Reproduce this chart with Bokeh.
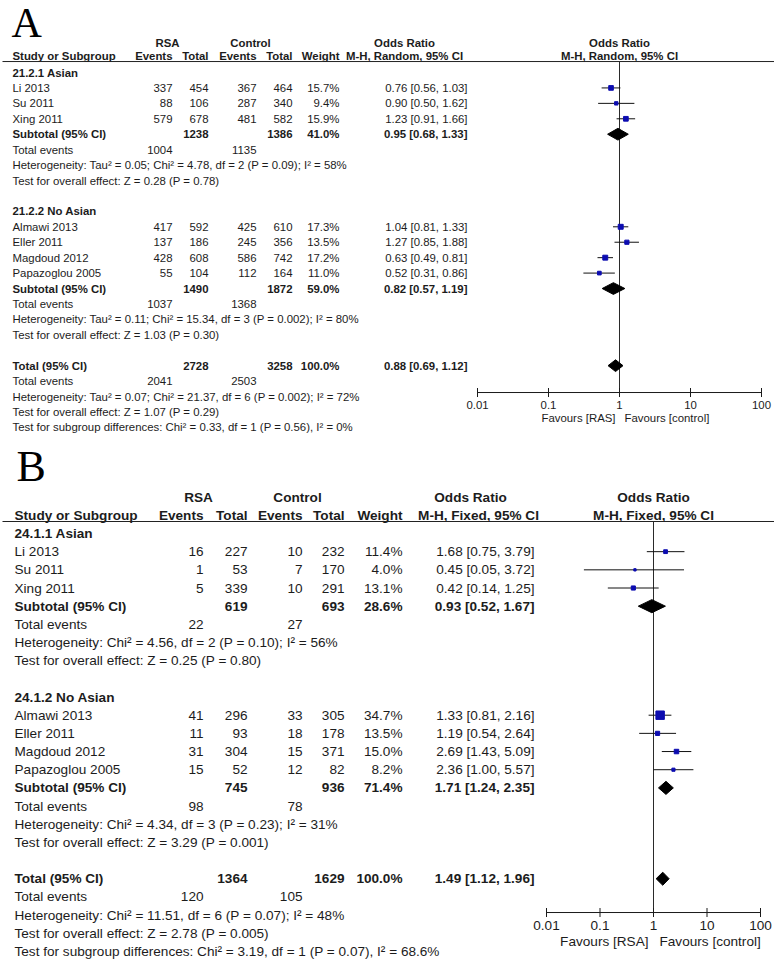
import math
from bokeh.plotting import figure
from bokeh.models import Range1d, LogScale, ColumnDataSource
from bokeh.layouts import column
from bokeh.embed import file_html
from bokeh.resources import INLINE
from bokeh.core.properties import value

# ---------------- data: panel A ----------------
a_letter = "A"
a_method = "M-H, Random, 95% CI"
a_groups = ["21.2.1 Asian", "21.2.2 No Asian"]
a_studies = ["Li 2013", "Su 2011", "Xing 2011", "Almawi 2013", "Eller 2011", "Magdoud 2012", "Papazoglou 2005"]
a_study_group = [0, 0, 0, 1, 1, 1, 1]
a_rsa_events = [337, 88, 579, 417, 137, 428, 55]
a_rsa_total = [454, 106, 678, 592, 186, 608, 104]
a_ctl_events = [367, 287, 481, 425, 245, 586, 112]
a_ctl_total = [464, 340, 582, 610, 356, 742, 164]
a_weight = [15.7, 9.4, 15.9, 17.3, 13.5, 17.2, 11.0]
a_or = [0.76, 0.90, 1.23, 1.04, 1.27, 0.63, 0.52]
a_lo = [0.56, 0.50, 0.91, 0.81, 0.85, 0.49, 0.31]
a_hi = [1.03, 1.62, 1.66, 1.33, 1.88, 0.81, 0.86]
a_sub_rsa_total = [1238, 1490]
a_sub_ctl_total = [1386, 1872]
a_sub_weight = [41.0, 59.0]
a_sub_or = [0.95, 0.82]
a_sub_lo = [0.68, 0.57]
a_sub_hi = [1.33, 1.19]
a_sub_rsa_events = [1004, 1037]
a_sub_ctl_events = [1135, 1368]
a_sub_het = ["Heterogeneity: Tau\u00b2 = 0.05; Chi\u00b2 = 4.78, df = 2 (P = 0.09); I\u00b2 = 58%",
             "Heterogeneity: Tau\u00b2 = 0.11; Chi\u00b2 = 15.34, df = 3 (P = 0.002); I\u00b2 = 80%"]
a_sub_test = ["Test for overall effect: Z = 0.28 (P = 0.78)",
              "Test for overall effect: Z = 1.03 (P = 0.30)"]
a_tot = dict(rsa_total=2728, ctl_total=3258, weight=100.0, orr=0.88, lo=0.69, hi=1.12,
             rsa_events=2041, ctl_events=2503)
a_tot_het = "Heterogeneity: Tau\u00b2 = 0.07; Chi\u00b2 = 21.37, df = 6 (P = 0.002); I\u00b2 = 72%"
a_tot_test = "Test for overall effect: Z = 1.07 (P = 0.29)"
a_sub_diff = "Test for subgroup differences: Chi\u00b2 = 0.33, df = 1 (P = 0.56), I\u00b2 = 0%"
a_favours = ["Favours [RAS]", "Favours [control]"]

# ---------------- data: panel B ----------------
b_letter = "B"
b_method = "M-H, Fixed, 95% CI"
b_groups = ["24.1.1 Asian", "24.1.2 No Asian"]
b_studies = ["Li 2013", "Su 2011", "Xing 2011", "Almawi 2013", "Eller 2011", "Magdoud 2012", "Papazoglou 2005"]
b_study_group = [0, 0, 0, 1, 1, 1, 1]
b_rsa_events = [16, 1, 5, 41, 11, 31, 15]
b_rsa_total = [227, 53, 339, 296, 93, 304, 52]
b_ctl_events = [10, 7, 10, 33, 18, 15, 12]
b_ctl_total = [232, 170, 291, 305, 178, 371, 82]
b_weight = [11.4, 4.0, 13.1, 34.7, 13.5, 15.0, 8.2]
b_or = [1.68, 0.45, 0.42, 1.33, 1.19, 2.69, 2.36]
b_lo = [0.75, 0.05, 0.14, 0.81, 0.54, 1.43, 1.00]
b_hi = [3.79, 3.72, 1.25, 2.16, 2.64, 5.09, 5.57]
b_sub_rsa_total = [619, 745]
b_sub_ctl_total = [693, 936]
b_sub_weight = [28.6, 71.4]
b_sub_or = [0.93, 1.71]
b_sub_lo = [0.52, 1.24]
b_sub_hi = [1.67, 2.35]
b_sub_rsa_events = [22, 98]
b_sub_ctl_events = [27, 78]
b_sub_het = ["Heterogeneity: Chi\u00b2 = 4.56, df = 2 (P = 0.10); I\u00b2 = 56%",
             "Heterogeneity: Chi\u00b2 = 4.34, df = 3 (P = 0.23); I\u00b2 = 31%"]
b_sub_test = ["Test for overall effect: Z = 0.25 (P = 0.80)",
              "Test for overall effect: Z = 3.29 (P = 0.001)"]
b_tot = dict(rsa_total=1364, ctl_total=1629, weight=100.0, orr=1.49, lo=1.12, hi=1.96,
             rsa_events=120, ctl_events=105)
b_tot_het = "Heterogeneity: Chi\u00b2 = 11.51, df = 6 (P = 0.07); I\u00b2 = 48%"
b_tot_test = "Test for overall effect: Z = 2.78 (P = 0.005)"
b_sub_diff = "Test for subgroup differences: Chi\u00b2 = 3.19, df = 1 (P = 0.07), I\u00b2 = 68.6%"
b_favours = ["Favours [RSA]", "Favours [control]"]

# shared axis ticks
or_ticks = [0.01, 0.1, 1, 10, 100]
or_tick_labels = ["0.01", "0.1", "1", "10", "100"]

# ---------------- styling ----------------
FONT = "Liberation Sans"
INK = "#1c1c1c"
BLUE = "#0c0cb0"
PAGE_W = 774


def fmt_ci(o, l, h):
    return f"{o:.2f} [{l:.2f}, {h:.2f}]"


def add_text(p, xs, ys, ts, fs, align="left", bold=False, rng="default", xo=0, yo=0,
             font=FONT, color=INK):
    src = ColumnDataSource(dict(x=list(xs), y=list(ys), t=list(ts)))
    p.text(x="x", y="y", text="t", source=src, text_font=value(font),
           text_font_size=value(fs), text_font_style="bold" if bold else "normal",
           text_align=align, text_baseline="middle", text_color=color,
           x_range_name=rng, x_offset=xo, y_offset=yo)


def build_panel(D, L):
    H = L["height"]
    r0, step = L["row0_px"], L["row_step"]
    y_top = -r0 / step
    y_bot = (H - r0) / step
    one_px, dec = L["one_px"], L["decade_px"]
    or_start = 10 ** ((0 - one_px) / dec)
    or_end = 10 ** ((PAGE_W - one_px) / dec)

    p = figure(width=PAGE_W, height=H, x_range=Range1d(0, PAGE_W),
               y_range=Range1d(y_bot, y_top), x_axis_type=None, y_axis_type=None,
               toolbar_location=None, output_backend="svg", min_border=0,
               outline_line_color=None, background_fill_color="white",
               border_fill_color="white")
    p.extra_x_ranges = {"or": Range1d(or_start, or_end)}
    p.extra_x_scales = {"or": LogScale()}

    fs = L["fs"]
    # ---- row bookkeeping
    rows_hdr, rows_study, rows_sub, rows_ev, rows_het, rows_test = [], [], [], [], [], []
    r = 0
    for g in range(len(D["groups"])):
        rows_hdr.append(r)
        r += 1
        for sg in D["study_group"]:
            if sg == g:
                rows_study.append(r)
                r += 1
        rows_sub.append(r)
        rows_ev.append(r + 1)
        rows_het.append(r + 2)
        rows_test.append(r + 3)
        r += 5
    row_tot = r

    C = L["cols"]
    # ---- big panel letter
    add_text(p, [L["letter_x"]], [L["letter_row"]], [D["letter"]], L["letter_fs"],
             font="Liberation Serif", color="black")

    # ---- headers
    add_text(p, [C["rsa_hdr"], C["ctl_hdr"], C["or_hdr"]], [L["hdr1_row"]] * 3,
             ["RSA", "Control", "Odds Ratio"], fs, align="center", bold=True)
    add_text(p, [1], [L["hdr1_row"]], ["Odds Ratio"], fs, align="center", bold=True, rng="or")
    add_text(p, [C["study"]], [L["hdr2_row"]], ["Study or Subgroup"], fs, bold=True)
    add_text(p, [C["rsa_ev"], C["rsa_tot"], C["ctl_ev"], C["ctl_tot"], C["weight"]],
             [L["hdr2_row"]] * 5, ["Events", "Total", "Events", "Total", "Weight"], fs,
             align="right", bold=True)
    add_text(p, [C["mh_hdr"]], [L["hdr2_row"]], [D["method"]], fs, align="center", bold=True)
    add_text(p, [1], [L["hdr2_row"]], [D["method"]], fs, align="center", bold=True, rng="or")
    p.segment(x0=[2], x1=[PAGE_W], y0=[L["rule_row"]], y1=[L["rule_row"]],
              line_color="#222222", line_width=1)

    # ---- group headers, studies
    add_text(p, [C["study"]] * len(rows_hdr), rows_hdr, D["groups"], fs, bold=True)
    add_text(p, [C["study"]] * len(rows_study), rows_study, D["studies"], fs)
    add_text(p, [C["rsa_ev"]] * len(rows_study), rows_study, [str(v) for v in D["rsa_events"]], fs, align="right")
    add_text(p, [C["rsa_tot"]] * len(rows_study), rows_study, [str(v) for v in D["rsa_total"]], fs, align="right")
    add_text(p, [C["ctl_ev"]] * len(rows_study), rows_study, [str(v) for v in D["ctl_events"]], fs, align="right")
    add_text(p, [C["ctl_tot"]] * len(rows_study), rows_study, [str(v) for v in D["ctl_total"]], fs, align="right")
    add_text(p, [C["weight"]] * len(rows_study), rows_study, [f"{w:.1f}%" for w in D["weight"]], fs, align="right")
    add_text(p, [C["or_txt"]] * len(rows_study), rows_study,
             [fmt_ci(o, l, h) for o, l, h in zip(D["or"], D["lo"], D["hi"])], fs, align="right")

    # ---- subtotals
    n = len(rows_sub)
    add_text(p, [C["study"]] * n, rows_sub, ["Subtotal (95% CI)"] * n, fs, bold=True)
    add_text(p, [C["rsa_tot"]] * n, rows_sub, [str(v) for v in D["sub_rsa_total"]], fs, align="right", bold=True)
    add_text(p, [C["ctl_tot"]] * n, rows_sub, [str(v) for v in D["sub_ctl_total"]], fs, align="right", bold=True)
    add_text(p, [C["weight"]] * n, rows_sub, [f"{w:.1f}%" for w in D["sub_weight"]], fs, align="right", bold=True)
    add_text(p, [C["or_txt"]] * n, rows_sub,
             [fmt_ci(o, l, h) for o, l, h in zip(D["sub_or"], D["sub_lo"], D["sub_hi"])], fs,
             align="right", bold=True)
    add_text(p, [C["study"]] * n, rows_ev, ["Total events"] * n, fs)
    add_text(p, [C["rsa_ev"]] * n, rows_ev, [str(v) for v in D["sub_rsa_events"]], fs, align="right")
    add_text(p, [C["ctl_ev"]] * n, rows_ev, [str(v) for v in D["sub_ctl_events"]], fs, align="right")
    add_text(p, [C["study"]] * n, rows_het, D["sub_het"], fs)
    add_text(p, [C["study"]] * n, rows_test, D["sub_test"], fs)

    # ---- overall total
    T = D["tot"]
    add_text(p, [C["study"]], [row_tot], ["Total (95% CI)"], fs, bold=True)
    add_text(p, [C["rsa_tot"], C["ctl_tot"], C["weight"], C["or_txt"]], [row_tot] * 4,
             [str(T["rsa_total"]), str(T["ctl_total"]), f"{T['weight']:.1f}%",
              fmt_ci(T["orr"], T["lo"], T["hi"])], fs, align="right", bold=True)
    add_text(p, [C["study"]], [row_tot + 1], ["Total events"], fs)
    add_text(p, [C["rsa_ev"], C["ctl_ev"]], [row_tot + 1] * 2,
             [str(T["rsa_events"]), str(T["ctl_events"])], fs, align="right")
    add_text(p, [C["study"]] * 3, [row_tot + 2, row_tot + 3, row_tot + 4],
             [D["tot_het"], D["tot_test"], D["sub_diff"]], fs)

    # ---- forest plot
    ax = L["axis_row"]
    p.segment(x0=[1], x1=[1], y0=[L["rule_row"]], y1=[ax], x_range_name="or",
              line_color="#2a2a2a", line_width=1)
    p.segment(x0=D["lo"], x1=D["hi"], y0=rows_study, y1=rows_study, x_range_name="or",
              line_color="#111111", line_width=1)
    p.scatter(x=D["or"], y=rows_study, size=[1.5 + 0.2 * w for w in D["weight"]],
              marker="square", fill_color=BLUE, line_color=BLUE, x_range_name="or")
    dh = L["diamond_h"]
    d_or = list(D["sub_or"]) + [T["orr"]]
    d_lo = list(D["sub_lo"]) + [T["lo"]]
    d_hi = list(D["sub_hi"]) + [T["hi"]]
    d_rows = rows_sub + [row_tot]
    p.patches(xs=[[l, o, h, o] for o, l, h in zip(d_or, d_lo, d_hi)],
              ys=[[rr, rr - dh, rr, rr + dh] for rr in d_rows],
              fill_color="black", line_color="black", x_range_name="or")
    # axis
    p.segment(x0=[or_ticks[0]], x1=[or_ticks[-1]], y0=[ax], y1=[ax], x_range_name="or",
              line_color="#1a1a1a", line_width=1)
    p.scatter(x=or_ticks, y=[ax] * len(or_ticks), marker="dash", angle=math.pi / 2,
              size=L["tick_size"], line_color="#1a1a1a", line_width=1, x_range_name="or")
    add_text(p, or_ticks, [ax] * len(or_ticks), or_tick_labels, fs, align="center",
             rng="or", yo=L["tick_lab_off"])
    add_text(p, [1], [ax], [D["favours"][0]], fs, align="right", rng="or",
             xo=-L["fav_gap"], yo=L["fav_off"])
    add_text(p, [1], [ax], [D["favours"][1]], fs, align="left", rng="or",
             xo=L["fav_gap"] + 1, yo=L["fav_off"])
    return p


DA = dict(letter=a_letter, method=a_method, groups=a_groups, studies=a_studies,
          study_group=a_study_group, rsa_events=a_rsa_events, rsa_total=a_rsa_total,
          ctl_events=a_ctl_events, ctl_total=a_ctl_total, weight=a_weight, **{"or": a_or},
          lo=a_lo, hi=a_hi, sub_rsa_total=a_sub_rsa_total, sub_ctl_total=a_sub_ctl_total,
          sub_weight=a_sub_weight, sub_or=a_sub_or, sub_lo=a_sub_lo, sub_hi=a_sub_hi,
          sub_rsa_events=a_sub_rsa_events, sub_ctl_events=a_sub_ctl_events,
          sub_het=a_sub_het, sub_test=a_sub_test, tot=a_tot, tot_het=a_tot_het,
          tot_test=a_tot_test, sub_diff=a_sub_diff, favours=a_favours)
DB = dict(letter=b_letter, method=b_method, groups=b_groups, studies=b_studies,
          study_group=b_study_group, rsa_events=b_rsa_events, rsa_total=b_rsa_total,
          ctl_events=b_ctl_events, ctl_total=b_ctl_total, weight=b_weight, **{"or": b_or},
          lo=b_lo, hi=b_hi, sub_rsa_total=b_sub_rsa_total, sub_ctl_total=b_sub_ctl_total,
          sub_weight=b_sub_weight, sub_or=b_sub_or, sub_lo=b_sub_lo, sub_hi=b_sub_hi,
          sub_rsa_events=b_sub_rsa_events, sub_ctl_events=b_sub_ctl_events,
          sub_het=b_sub_het, sub_test=b_sub_test, tot=b_tot, tot_het=b_tot_het,
          tot_test=b_tot_test, sub_diff=b_sub_diff, favours=b_favours)

# panel A occupies page rows 0..434, panel B 434..959
LA = dict(height=434, row0_px=72, row_step=15.43, one_px=619, decade_px=71.0, fs="11.4px",
          letter_x=11, letter_row=-3.18, letter_fs="42px", hdr1_row=-1.94, hdr2_row=-1.04,
          rule_row=-0.71, axis_row=20.74, diamond_h=0.38, tick_size=9, tick_lab_off=12,
          fav_off=25, fav_gap=4,
          cols=dict(study=12, rsa_ev=172, rsa_tot=208, ctl_ev=256, ctl_tot=292, weight=339,
                    or_txt=467, rsa_hdr=167, ctl_hdr=250, or_hdr=404, mh_hdr=404))
LB = dict(height=525, row0_px=99, row_step=18.17, one_px=653, decade_px=53.5, fs="13.6px",
          letter_x=16, letter_row=-3.69, letter_fs="44px", hdr1_row=-1.98, hdr2_row=-0.99,
          rule_row=-0.66, axis_row=20.86, diamond_h=0.36, tick_size=9, tick_lab_off=13,
          fav_off=29, fav_gap=5,
          cols=dict(study=14, rsa_ev=203, rsa_tot=247, ctl_ev=302, ctl_tot=344, weight=402,
                    or_txt=534, rsa_hdr=198, ctl_hdr=297, or_hdr=470, mh_hdr=478))

pa = build_panel(DA, LA)
pb = build_panel(DB, LB)
layout = column(pa, pb, spacing=0)

with open("out.html", "w") as f:
    f.write(file_html(layout, INLINE))
